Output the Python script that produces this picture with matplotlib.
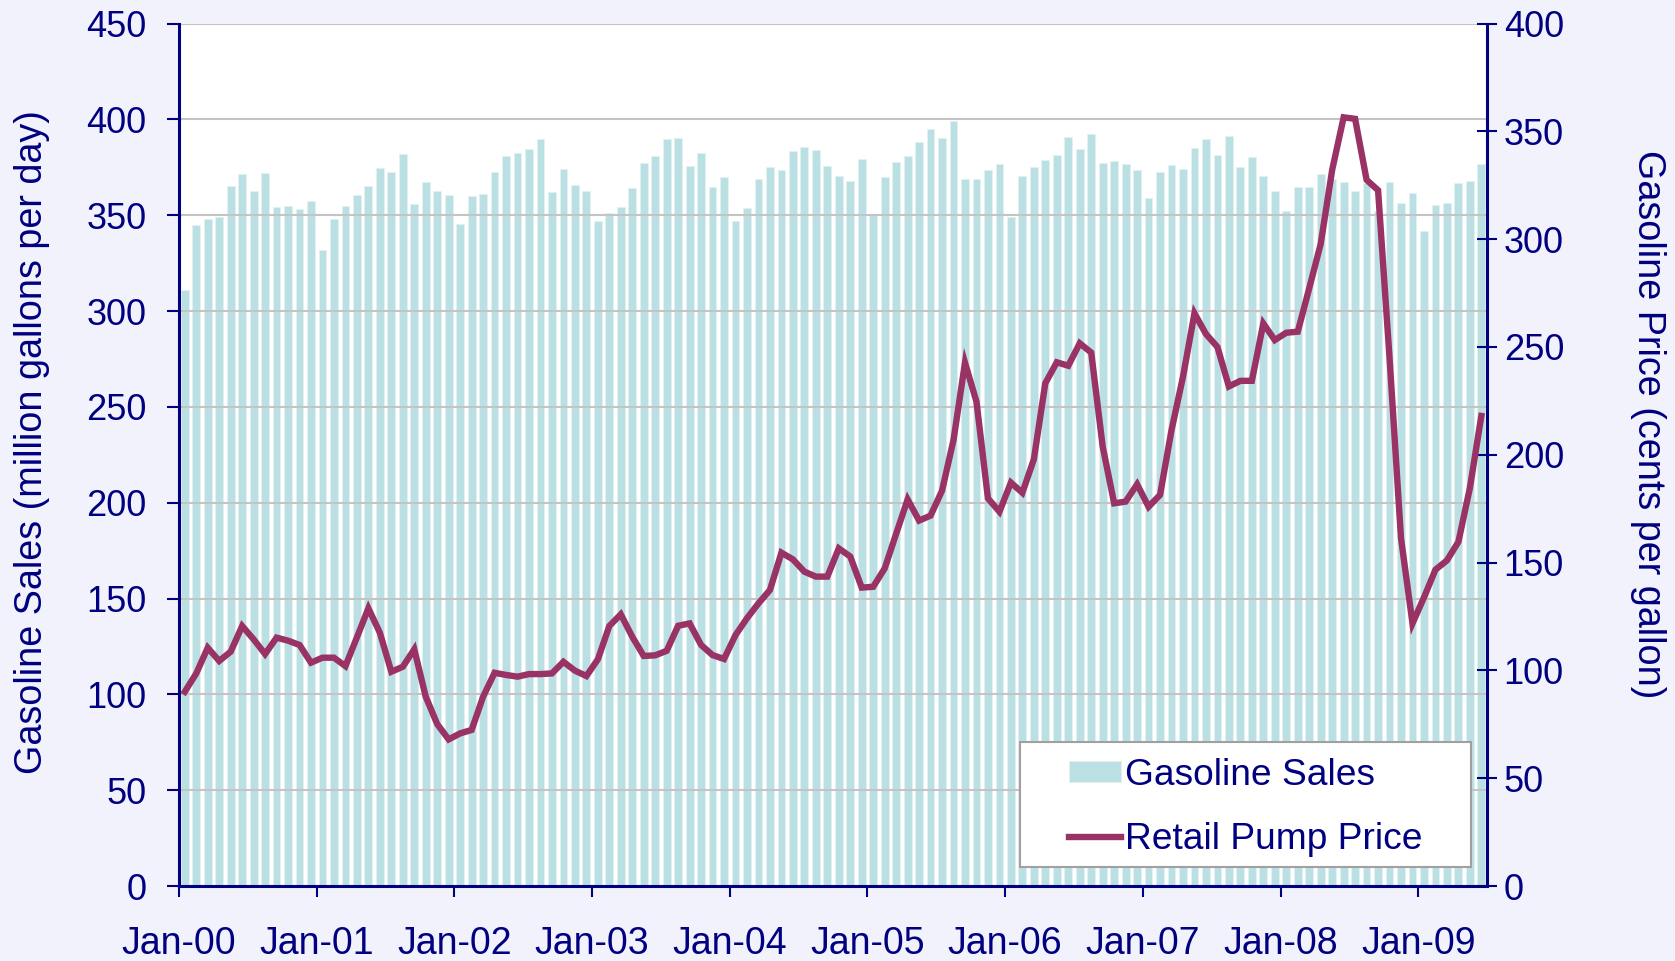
import numpy as np
import matplotlib
matplotlib.use("Agg")
import matplotlib.pyplot as plt
from matplotlib.patches import Rectangle

plt.rcParams['font.family'] = ['Liberation Sans', 'DejaVu Sans']

# monthly data, Jan-2000 .. Jun-2009
sales = [311, 345, 348, 349, 365.5, 371.4, 362.5, 372, 354.4, 354.7, 353, 357.3,
         332.1, 348.1, 354.9, 360.3, 365.5, 374.7, 372.5, 381.9, 355.7, 367.4, 362.5, 360.8,
         345.5, 360.1, 361.3, 372.6, 380.7, 382.6, 384.3, 389.7, 362, 374, 365.9, 362.4,
         346.9, 351.2, 354.4, 364.3, 377.4, 380.8, 389.7, 390.4, 375.8, 382.4, 364.8, 369.7,
         347.2, 354, 369, 375.3, 373.7, 383.4, 385.4, 384, 375.6, 370.6, 367.9, 379.4,
         350.2, 369.7, 377.9, 380.7, 388.2, 395.1, 390.4, 399, 368.8, 368.8, 373.7, 376.8,
         349.3, 370.6, 375.1, 378.9, 381.4, 390.8, 384.5, 392.3, 377.4, 378.2, 376.8, 373.7,
         358.9, 372.5, 376.1, 374, 385.2, 389.9, 381.2, 391.5, 375.3, 380.3, 370.4, 362.4,
         352, 364.5, 364.6, 371.4, 369, 367.3, 362.8, 367, 352, 367.4, 356.4, 361.8,
         341.6, 355.3, 356.3, 366.7, 367.8, 376.5]

price = [90.1, 98.6, 110.5, 104.4, 108.7, 120.6, 114.4, 107.6, 115.2, 113.8, 111.8, 103.6,
         105.9, 105.9, 102.0, 115.3, 128.8, 117.5, 99.4, 101.7, 109.8, 87.8, 75.1, 68.0,
         70.8, 72.4, 87.8, 98.9, 97.9, 97.1, 98.3, 98.3, 98.6, 104.0, 99.9, 97.4,
         105.1, 120.6, 126.0, 115.6, 106.7, 107.0, 109.1, 120.7, 121.8, 111.8, 107.1, 105.3,
         116.4, 124.2, 131.1, 137.3, 154.6, 151.5, 145.8, 143.5, 143.5, 156.6, 152.8, 138.4,
         138.8, 147.3, 163.4, 179.3, 169.5, 171.8, 183.4, 206.9, 242.7, 224.6, 179.8, 173.6,
         187.1, 182.4, 197.9, 233.2, 242.9, 241.3, 251.7, 247.4, 203.8, 177.5, 178.3, 186.3,
         175.9, 181.4, 211.5, 236.2, 265.6, 256.0, 250.0, 231.7, 234.3, 234.3, 260.9, 253.2,
         256.6, 257.1, 277.2, 297.8, 332.1, 356.5, 355.8, 327.5, 322.7, 245.0, 161.3, 121.8,
         133.8, 146.7, 151.0, 159.6, 184.5, 218.0]

year_labels = ['Jan-00', 'Jan-01', 'Jan-02', 'Jan-03', 'Jan-04',
               'Jan-05', 'Jan-06', 'Jan-07', 'Jan-08', 'Jan-09']

navy = '#000080'
x = np.arange(len(sales))

fig, ax = plt.subplots(figsize=(16.75, 9.61), dpi=100)
fig.patch.set_facecolor('#F2F2FC')
fig.subplots_adjust(left=0.1069, right=0.8878, top=0.9755, bottom=0.078)
ax.set_facecolor('white')

bars = ax.bar(x, sales, width=0.68, color='#BBE0E3', edgecolor='#E2F1F2', linewidth=0.6,
              label='Gasoline Sales')
ax.set_xlim(-0.5, len(sales) - 0.5)
ax.set_ylim(0, 450)
ax.set_yticks(np.arange(0, 451, 50))
ax.yaxis.grid(True, color='#C4C4C4', linewidth=1.5)
ax.set_xticks(np.arange(0, len(sales), 12) - 0.5)
ax.set_xticklabels(year_labels)

ax.tick_params(axis='y', direction='out', length=8.5, width=1.5, colors=navy,
               labelsize=26, pad=15)
ax.tick_params(axis='x', direction='out', length=8, width=1.5, colors=navy,
               labelsize=27, pad=21)
for s in ['left', 'bottom']:
    ax.spines[s].set_color(navy)
    ax.spines[s].set_linewidth(2.2)
ax.spines['top'].set_visible(False)
ax.spines['right'].set_visible(False)

ax.set_ylabel('Gasoline Sales (million gallons per day)', fontsize=27.2, color=navy)
ax.yaxis.label.set_va('center')
ax.yaxis.set_label_coords(-0.1124, 0.515)

ax2 = ax.twinx()
line, = ax2.plot(x, price, color='#993366', linewidth=4.6, solid_joinstyle='miter',
                 label='Retail Pump Price', zorder=3)
ax2.set_ylim(0, 400)
ax2.set_yticks(np.arange(0, 401, 50))
ax2.tick_params(axis='y', direction='inout', length=14, width=1.5, colors=navy,
                labelsize=26, pad=5)
for s in ['left', 'top', 'bottom']:
    ax2.spines[s].set_visible(False)
ax2.spines['right'].set_color(navy)
ax2.spines['right'].set_linewidth(2.2)
ax2.set_ylabel('Gasoline Price (cents per gallon)', fontsize=27.2, color=navy,
               rotation=270)
ax2.yaxis.label.set_va('center')
ax2.yaxis.set_label_coords(1.123, 0.535)

# legend box
box = Rectangle((0.643, 0.022), 0.345, 0.145, transform=ax2.transAxes,
                facecolor='white', edgecolor='#A0A0A0', linewidth=1.5, zorder=4)
ax2.add_patch(box)
leg = ax2.legend(handles=[bars, line], loc='center', bbox_to_anchor=(0.8155, 0.091),
                 frameon=False, fontsize=26.7, labelcolor=navy, handlelength=1.4,
                 handleheight=0.5, handletextpad=0.12, labelspacing=0.78)
leg.set_zorder(5)

plt.savefig('out.png', facecolor=fig.get_facecolor())
